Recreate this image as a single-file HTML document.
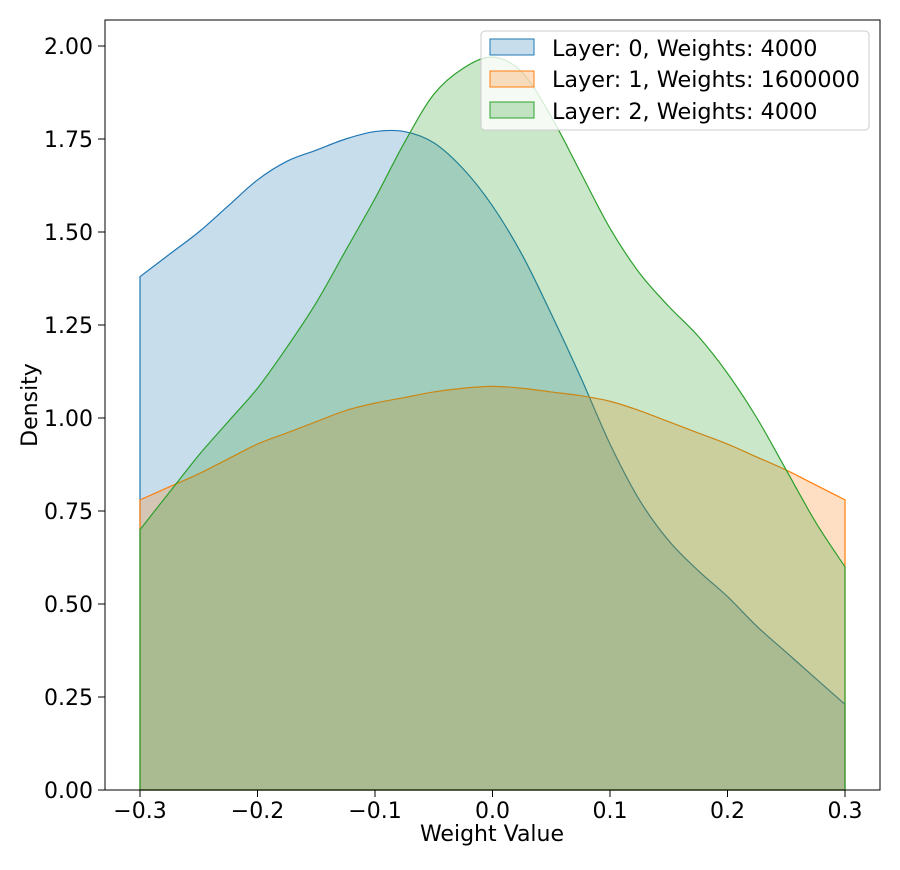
<!DOCTYPE html>
<html><head><meta charset="utf-8"><style>
body{margin:0;background:#fff;}
svg text{font-family:"DejaVu Sans","Liberation Sans",sans-serif;fill:#000;}
</style></head><body>
<svg id="chart" width="900" height="865">
<g id="plot"></g>
<rect x="105" y="20" width="775" height="770" fill="none" stroke="#000" stroke-width="1"/>
<g id="xticks"></g>
<g id="yticks"></g>
<text x="492" y="841" font-size="22" text-anchor="middle">Weight Value</text>
<text x="37" y="405" font-size="22" text-anchor="middle" transform="rotate(-90 37 405)">Density</text>
<g>
<rect x="481" y="31" width="388" height="99" rx="4" fill="#fff" fill-opacity="0.8" stroke="#ccc"/>
<g>
<rect x="490" y="39" width="44" height="16" fill="rgba(31,119,180,0.25)" stroke="#1f77b4"/>
<text x="552" y="56" font-size="22.3">Layer: 0, Weights: 4000</text></g>
<g>
<rect x="490" y="71" width="44" height="16" fill="rgba(255,127,14,0.25)" stroke="#ff7f0e"/>
<text x="552" y="87" font-size="22.3">Layer: 1, Weights: 1600000</text></g>
<g>
<rect x="490" y="102" width="44" height="16" fill="rgba(44,160,44,0.25)" stroke="#2ca02c"/>
<text x="552" y="119" font-size="22.3">Layer: 2, Weights: 4000</text></g>
</g>
</svg>
<script>
const xs=[-0.3,-0.275,-0.25,-0.225,-0.2,-0.175,-0.15,-0.125,-0.1,-0.075,-0.05,-0.025,0,0.025,0.05,0.075,0.1,0.125,0.15,0.175,0.2,0.225,0.25,0.275,0.3];
const layer0=[1.38,1.44,1.50,1.57,1.64,1.69,1.72,1.75,1.77,1.77,1.74,1.67,1.57,1.44,1.28,1.11,0.93,0.78,0.67,0.59,0.52,0.44,0.37,0.30,0.23];
const layer1=[0.78,0.815,0.85,0.89,0.93,0.96,0.99,1.02,1.04,1.055,1.07,1.08,1.085,1.08,1.07,1.06,1.045,1.02,0.99,0.96,0.93,0.895,0.86,0.82,0.78];
const layer2=[0.70,0.80,0.90,0.99,1.08,1.19,1.31,1.45,1.59,1.74,1.87,1.94,1.97,1.93,1.81,1.66,1.51,1.39,1.30,1.22,1.12,1.00,0.86,0.72,0.60];
const xTicks=[-0.3,-0.2,-0.1,0,0.1,0.2,0.3];
const xTickLabels=["\u22120.3","\u22120.2","\u22120.1","0.0","0.1","0.2","0.3"];
const yTicks=[0,0.25,0.5,0.75,1,1.25,1.5,1.75,2];
const yTickLabels=["0.00","0.25","0.50","0.75","1.00","1.25","1.50","1.75","2.00"];
const X=v=>492.5+v*1175, Y=v=>790-v*372;
const NS="http://www.w3.org/2000/svg";
function smooth(pts){let d=`M${pts[0][0]},${pts[0][1]}`;for(let i=0;i<pts.length-1;i++){const p0=pts[Math.max(0,i-1)],p1=pts[i],p2=pts[i+1],p3=pts[Math.min(pts.length-1,i+2)];d+=` C${p1[0]+(p2[0]-p0[0])/6},${p1[1]+(p2[1]-p0[1])/6} ${p2[0]-(p3[0]-p1[0])/6},${p2[1]-(p3[1]-p1[1])/6} ${p2[0]},${p2[1]}`;}return d;}
const plot=document.getElementById('plot');
[[layer0,'31,119,180','#1f77b4','area-layer-0'],[layer1,'255,127,14','#ff7f0e','area-layer-1'],[layer2,'44,160,44','#2ca02c','area-layer-2']].forEach(([ys,rgb,c,name])=>{
 const pts=xs.map((x,i)=>[X(x),Y(ys[i])]);
 const p=document.createElementNS(NS,'path');
 p.setAttribute('d',`M${X(xs[0])},${Y(0)} L`+smooth(pts).slice(1)+` L${X(xs[xs.length-1])},${Y(0)} Z`);
 p.setAttribute('fill',`rgba(${rgb},0.25)`);p.setAttribute('stroke',c);p.setAttribute('stroke-width','1.2');
 
 
 plot.appendChild(p);
});
const xg=document.getElementById('xticks');
xTicks.forEach((v,i)=>{const l=document.createElementNS(NS,'line');l.setAttribute('x1',X(v));l.setAttribute('x2',X(v));l.setAttribute('y1',790);l.setAttribute('y2',797);l.setAttribute('stroke','#000');xg.appendChild(l);
 const t=document.createElementNS(NS,'text');t.setAttribute('x',X(v));t.setAttribute('y',818);t.setAttribute('font-size','22');t.setAttribute('text-anchor','middle');t.textContent=xTickLabels[i];
 
 
 xg.appendChild(t);});
const yg=document.getElementById('yticks');
yTicks.forEach((v,i)=>{const l=document.createElementNS(NS,'line');l.setAttribute('x1',98);l.setAttribute('x2',105);l.setAttribute('y1',Y(v));l.setAttribute('y2',Y(v));l.setAttribute('stroke','#000');yg.appendChild(l);
 const t=document.createElementNS(NS,'text');t.setAttribute('x',93);t.setAttribute('y',Y(v)+8);t.setAttribute('font-size','22');t.setAttribute('text-anchor','end');t.textContent=yTickLabels[i];
 
 
 yg.appendChild(t);});
</script>
</body></html>
